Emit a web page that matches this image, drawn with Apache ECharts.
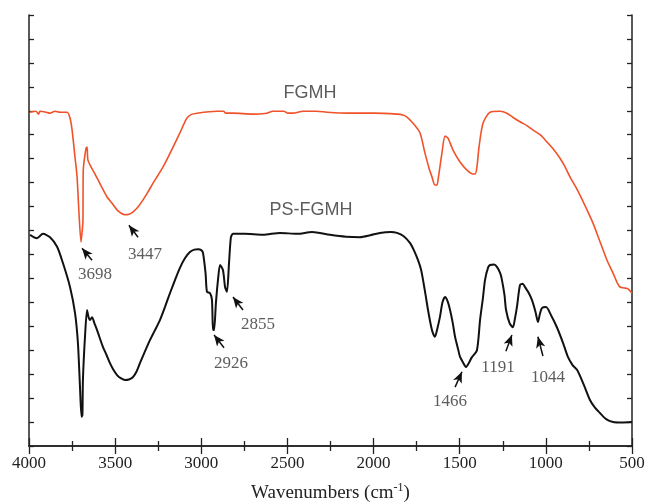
<!DOCTYPE html>
<html>
<head>
<meta charset="utf-8">
<script src="https://cdn.jsdelivr.net/npm/echarts@6/dist/echarts.min.js"></script>
<style>
  html,body{margin:0;padding:0;background:#fff;}
  #main{width:647px;height:503px;}
</style>
</head>
<body>
<div id="main"></div>
<script>
// x tick labels (wavenumber, cm-1)
var xTicks = [4000, 3500, 3000, 2500, 2000, 1500, 1000, 500];

// FGMH spectrum [wavenumber, transmittance (a.u.)]
var fgmh = [
  [3994,69.7],[3960,69.9],[3945,69.3],[3936,69.9],[3900,69.7],[3878,69.5],[3850,69.9],[3820,69.7],
  [3779,69.7],[3762,68.5],[3750,66.0],[3733,60.3],[3721,56.2],[3710,48.7],[3698,42.6],[3690,45.5],
  [3687,46.6],[3685,57.6],[3669,62.2],[3663,62.4],[3658,59.7],[3640,58.3],[3620,57.0],[3580,54.2],
  [3547,52.0],[3520,50.8],[3489,49.3],[3465,48.6],[3443,48.3],[3420,48.4],[3396,48.9],[3370,49.8],
  [3338,51.4],[3310,53.0],[3280,54.9],[3250,56.6],[3222,58.3],[3190,60.5],[3164,62.4],[3140,64.2],
  [3124,65.4],[3100,67.3],[3083,68.5],[3060,69.2],[3025,69.5],[2909,69.9],[2870,69.9],[2860,69.5],
  [2816,69.5],[2700,69.3],[2620,69.5],[2584,69.9],[2520,69.9],[2500,69.5],[2468,69.5],[2410,69.9],
  [2330,69.9],[2270,69.7],[2154,69.5],[2000,69.5],[1864,69.3],[1830,69.1],[1806,68.7],[1771,67.4],
  [1731,65.4],[1702,61.2],[1678,58.0],[1661,56.2],[1644,54.5],[1632,54.5],[1626,55.5],[1603,61.2],
  [1585,64.7],[1568,64.3],[1539,61.8],[1498,59.3],[1458,57.6],[1423,56.8],[1410,56.8],[1400,58.3],
  [1388,62.4],[1365,67.4],[1324,69.7],[1266,69.9],[1226,69.5],[1190,68.6],[1150,67.7],[1110,66.9],
  [1075,66.0],[1030,64.9],[994,63.5],[955,61.9],[918,60.1],[890,58.4],[860,56.2],[830,54.3],
  [802,52.4],[765,49.6],[727,46.6],[685,42.6],[645,38.8],[610,36.1],[585,34.0],[570,33.2],
  [545,33.0],[523,32.8],[500,31.9]
];

// PS-FGMH spectrum
var psFgmh = [
  [3994,44.1],[3954,43.4],[3919,44.3],[3878,43.6],[3837,41.6],[3803,38.2],[3762,33.2],[3733,27.8],
  [3716,21.5],[3704,12.3],[3695,6.1],[3690,6.5],[3687,13.8],[3675,22.8],[3663,28.4],[3655,27.0],
  [3646,26.3],[3634,26.9],[3620,25.6],[3605,24.2],[3571,20.7],[3550,19.0],[3530,17.3],[3510,15.9],
  [3489,14.8],[3465,14.1],[3443,13.8],[3420,13.9],[3396,14.4],[3375,15.6],[3356,17.3],[3330,19.5],
  [3298,22.1],[3270,24.1],[3240,26.3],[3210,29.1],[3182,31.9],[3150,34.9],[3124,37.2],[3095,39.2],
  [3066,40.5],[3040,41.0],[3019,41.1],[3000,40.9],[2990,40.3],[2975,36.0],[2967,32.2],[2949,31.9],
  [2938,30.5],[2932,24.2],[2926,24.2],[2915,29.9],[2903,34.7],[2891,37.8],[2874,36.7],[2862,33.2],
  [2851,32.2],[2839,38.2],[2828,43.6],[2816,44.3],[2750,44.3],[2642,44.1],[2543,44.5],[2444,44.3],
  [2357,44.7],[2253,44.1],[2160,43.7],[2079,43.6],[2020,44.0],[1963,44.5],[1900,44.7],[1864,44.5],
  [1825,43.8],[1789,42.4],[1765,40.8],[1742,38.8],[1725,36.9],[1713,34.7],[1698,31.5],[1684,28.4],
  [1665,24.8],[1655,23.5],[1644,22.8],[1630,24.5],[1615,26.9],[1600,30.0],[1585,31.1],[1570,30.2],
  [1556,28.4],[1540,25.6],[1527,22.8],[1510,20.3],[1498,18.6],[1480,17.4],[1464,16.5],[1430,18.5],
  [1400,20.0],[1382,26.3],[1365,31.0],[1353,34.7],[1335,37.3],[1324,37.8],[1300,37.9],[1284,37.4],
  [1265,36.1],[1255,34.7],[1240,31.5],[1231,28.4],[1210,25.6],[1191,24.8],[1180,26.5],[1168,29.0],
  [1150,33.6],[1135,33.9],[1121,33.2],[1100,32.0],[1081,30.5],[1060,28.0],[1046,25.9],[1035,27.5],
  [1023,28.8],[999,29.0],[970,27.3],[936,24.8],[900,21.5],[872,18.6],[845,16.9],[819,15.9],
  [780,12.8],[744,9.6],[715,8.0],[686,6.9],[650,5.6],[610,5.0],[560,4.9],[500,5.0]
];

// peak labels [wavenumber, value, text]
var peakLabels = [
  [3617,35.9,'3698'],[3327,39.9,'3447'],[2828,17.3,'2926'],[2671,25.3,'2855'],
  [1557,9.2,'1466'],[1278,16.3,'1191'],[988,14.4,'1044']
];
// arrows [tailW, tailV, tipW, tipV]
var peakArrows = [
  [3634,38.8,3692,41.3],[3367,43.6,3420,46.1],[2868,20.5,2926,23.2],[2758,28.4,2816,31.1],
  [1527,12.3,1487,15.5],[1232,19.8,1197,23.2],[1017,18.8,1046,22.8]
];
// curve names
var curveLabels = [[2369,73.7,'FGMH'],[2363,49.3,'PS-FGMH']];

var chart = echarts.init(document.getElementById('main'), null, {renderer:'canvas'});

var axisLine = {lineStyle:{color:'#222', width:1.5}};
function xAxisCfg(pos, showLabel){
  return {
    type:'value', position:pos, inverse:true,
    min:xTicks[xTicks.length-1], max:xTicks[0], interval:500,
    axisLine:axisLine,
    axisTick:{inside:true, length:8, lineStyle:{color:'#222', width:1.3}},
    minorTick:{show:true, splitNumber:2, length:5, lineStyle:{color:'#222', width:1.3}},
    splitLine:{show:false},
    axisLabel:{show:showLabel, color:'#222', fontFamily:'Liberation Serif', fontSize:17, margin:9,
      formatter:function(v){ return String(v); }},
    name: showLabel ? 'Wavenumbers (cm{sup|-1})' : '',
    nameLocation:'middle', nameGap:36,
    nameTextStyle:{
      color:'#222', fontFamily:'Liberation Serif', fontSize:19,
      rich:{sup:{fontFamily:'Liberation Serif', fontSize:12, verticalAlign:'top', padding:[0,0,10,0]}}
    }
  };
}
function yAxisCfg(pos){
  return {
    type:'value', position:pos, min:0, max:90, interval:5,
    axisLine:axisLine,
    axisTick:{inside:true, length:5, lineStyle:{color:'#222', width:1.3}},
    splitLine:{show:false},
    axisLabel:{show:false}
  };
}

var arrowData = peakArrows.map(function(a){
  return [{coord:[a[0], a[1]]}, {coord:[a[2], a[3]]}];
});

chart.setOption({
  animation:false,
  backgroundColor:'#fff',
  grid:{left:29, right:15, top:15, bottom:57, outerBoundsMode:'none'},
  xAxis:[xAxisCfg('bottom', true), xAxisCfg('top', false)],
  yAxis:[yAxisCfg('left'), yAxisCfg('right')],
  series:[
    {
      name:'FGMH', type:'line', data:fgmh, showSymbol:false, smooth:0.25,
      lineStyle:{color:'#f0522a', width:1.6}
    },
    {
      name:'PS-FGMH', type:'line', data:psFgmh, showSymbol:false, smooth:0.25,
      lineStyle:{color:'#111', width:2},
      markLine:{
        silent:true, symbol:['none','arrow'], symbolSize:[7,11],
        label:{show:false},
        lineStyle:{color:'#111', width:1.5, type:'solid'},
        data:arrowData
      }
    },
    {
      type:'scatter', data:peakLabels, symbolSize:0, silent:true,
      label:{show:true, position:'inside', color:'#333', fontFamily:'Liberation Serif', fontSize:17,
        formatter:function(p){ return p.data[2]; }}
    },
    {
      type:'scatter', data:curveLabels, symbolSize:0, silent:true,
      label:{show:true, position:'inside', color:'#333', fontFamily:'Liberation Sans', fontSize:18,
        formatter:function(p){ return p.data[2]; }}
    }
  ]
});
</script>
</body>
</html>
